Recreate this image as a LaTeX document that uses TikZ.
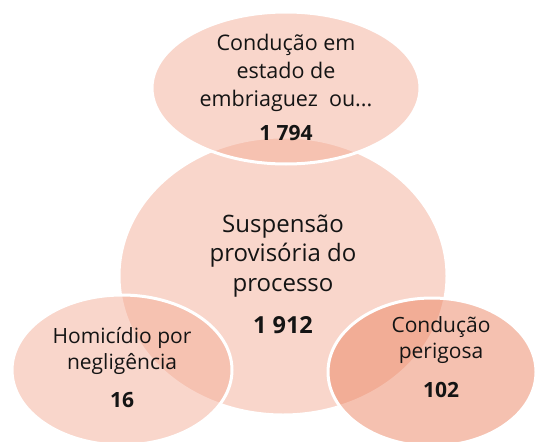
\documentclass[tikz,border=0pt]{standalone}
\usepackage{fontspec}
\setmainfont{Open Sans}
\usetikzlibrary{shapes.geometric}
\definecolor{petal}{RGB}{245,175,153}
\definecolor{petaldark}{RGB}{237,133,99}
\definecolor{ink}{RGB}{20,20,20}
\tikzset{
  blob/.style={ellipse,draw=white,line width=3pt,fill=petal,fill opacity=0.5,
               inner sep=0pt},
  lbl/.style={align=center,text=ink,inner sep=0pt},
  num/.style={text=ink,inner sep=0pt,font=\bfseries},
}

\begin{document}
\begin{tikzpicture}[x=1pt,y=-1pt]
  \clip (0,0) rectangle (537,441);
  \fill[white] (0,0) rectangle (537,441);

  % ellipses (centre first, the others over it)
  \node[blob,minimum width=328pt,minimum height=278pt] (vcentre) at (283,276) {};
  \node[blob,minimum width=268pt,minimum height=152pt] (vtop)    at (286,88)  {};
  \node[blob,minimum width=220pt,minimum height=150pt] (vleft)   at (122,370) {};
  \node[blob,fill=petaldark,minimum width=208pt,minimum height=148pt] (vright) at (432,372) {};

  % texts
  \node[lbl,font=\fontsize{21.5}{28}\selectfont] (ttop) at (286,73)
    {Condução em\\estado de\\embriaguez~ ou...};
  \node[num,font=\fontsize{21}{24}\bfseries] (ntop) at (286,133) {1 794};

  \node[lbl,font=\fontsize{24}{29.5}\selectfont] (tcentre) at (283,256)
    {Suspensão\\provisória do\\processo};
  \node[num,font=\fontsize{23.5}{26}\bfseries] (ncentre) at (283,325) {1 912};

  \node[lbl,font=\fontsize{21}{26}\selectfont] (tleft) at (122,351)
    {Homicídio por\\negligência};
  \node[num,font=\fontsize{21}{24}\bfseries] (nleft) at (122,400) {16};

  \node[lbl,font=\fontsize{21}{26}\selectfont] (tright) at (441,340)
    {Condução\\perigosa};
  \node[num,font=\fontsize{21}{24}\bfseries] (nright) at (441,390) {102};
\end{tikzpicture}
\end{document}
